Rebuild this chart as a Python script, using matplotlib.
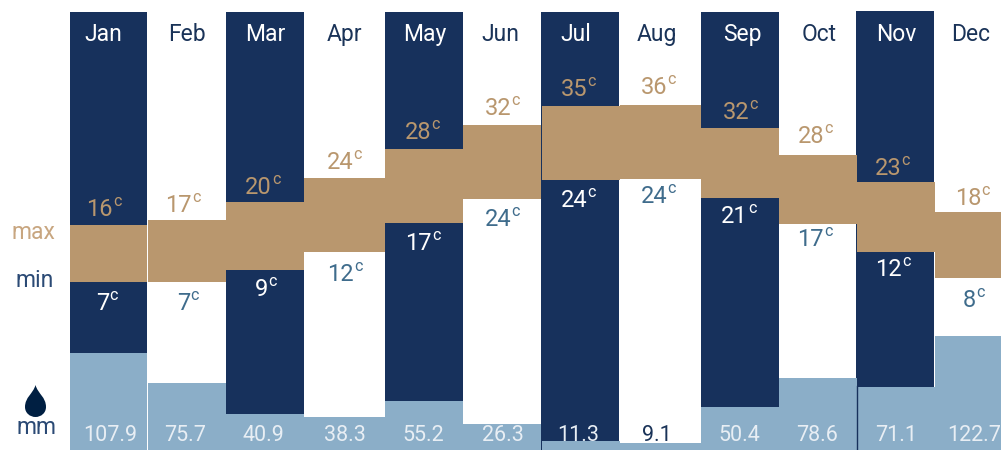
import matplotlib
matplotlib.use("Agg")
import matplotlib.pyplot as plt
from matplotlib.path import Path
from matplotlib.patches import PathPatch

months = ["Jan", "Feb", "Mar", "Apr", "May", "Jun", "Jul", "Aug", "Sep", "Oct", "Nov", "Dec"]
max_labels = [16, 17, 20, 24, 28, 32, 35, 36, 32, 28, 23, 18]
min_labels = [7, 7, 9, 12, 17, 24, 24, 24, 21, 17, 12, 8]
rain_labels = ["107.9", "75.7", "40.9", "38.3", "55.2", "26.3", "11.3", "9.1", "50.4", "78.6", "71.1", "122.7"]
# band and bar levels
max_level = [16.5, 17.33, 20.33, 24.33, 29.17, 33.17, 36.33, 36.5, 32.67, 28.17, 23.67, 18.67]
min_level = [7, 7, 9, 12, 16.83, 20.83, 24, 24.17, 21, 16.67, 12, 7.67]
rain_level = [107.9, 75.7, 40.9, 38.3, 55.2, 30.2, 11.3, 9.1, 48.9, 80.8, 71.1, 127]

# layout
left = [70, 148, 226, 304, 385, 463, 541.7, 619.5, 701, 779, 857, 935]
right = [147, 225.5, 304, 385, 463, 541, 619.5, 701, 779, 856.5, 934.5, 1001]
navy_left = [70, None, 226, None, 385, None, 541, None, 701, None, 856, None]
navy_right = [147, None, 304, None, 463, None, 619, None, 779, None, 934, None]
navy_top = [12, None, 12, None, 12, None, 12, None, 12, None, 11, None]
month_x = [103, 187, 265, 344.5, 425, 500, 575.5, 657, 742, 819, 896, 971]
rain_x = [110, 185, 263, 345, 423, 503, 578, 657, 739, 817, 896, 974]
max_right = [113, 192, 272, 353, 431, 511, 587, 667, 749, 824, 901, 981]
min_right = [109, 190, 268, 354, 432, 511, 587, 667, 748, 824, 902, 976]
max_base = [216, 212, 194, 169, 139, 115, 96, 94, 119, 143, 175, 205]
min_base = [310, 310, 296, 281, 250, 226, 207, 203, 223, 246, 276, 307]

NAVY = "#17315c"
TAN = "#b9976e"
SKY = "#8baec8"
STEEL = "#3f6c8c"
DARK = "#1a3358"
PALE = "#e8eef4"
FONT = "Roboto"
FS = 16.5

W, H = 1001, 450
fig = plt.figure(figsize=(W / 100, H / 100), dpi=100, facecolor="white")


def layer(z, ylim):
    a = fig.add_axes([0, 0, 1, 1], zorder=z)
    a.set_xlim(0, W)
    a.set_ylim(*ylim)
    a.axis("off")
    a.patch.set_alpha(0)
    return a


ax_navy = layer(1, (H, 0))
ax_rain = layer(2, (1.65, 496.2))
ax_temp = layer(3, (-21, 54))
ax_text = layer(4, (H, 0))

for i in range(12):
    if navy_left[i] is not None:
        ax_navy.bar(navy_left[i], H - navy_top[i], navy_right[i] - navy_left[i],
                    bottom=navy_top[i], align="edge", color=NAVY, linewidth=0)
    ax_rain.bar(left[i], rain_level[i], right[i] - left[i], align="edge", color=SKY, linewidth=0)
    ax_temp.bar(left[i], max_level[i] - min_level[i], right[i] - left[i], bottom=min_level[i],
                align="edge", color=TAN, linewidth=0)

# thin navy seam at the left of Nov over the rain block
ax_rain.axvline(856.5, ymin=0, ymax=64 / H, color=NAVY, linewidth=1)


def deg(x_right, baseline, value, color):
    ax_text.text(x_right, baseline, str(value), ha="right", va="baseline", color=color,
                 fontsize=17, family=FONT)
    ax_text.text(x_right, baseline - 10, "c", ha="left", va="baseline", color=color,
                 fontsize=11.5, family=FONT)


for i, m in enumerate(months):
    on_navy = navy_left[i] is not None
    ax_text.text(month_x[i], 41, m, ha="center", va="baseline", fontsize=FS, family=FONT,
                 color="white" if on_navy else DARK)
    deg(max_right[i], max_base[i], max_labels[i], TAN)
    deg(min_right[i], min_base[i], min_labels[i], "white" if on_navy else STEEL)
    rain_col = DARK if m == "Aug" else PALE
    ax_text.text(rain_x[i], 441, rain_labels[i], ha="center", va="baseline", fontsize=15.5,
                 family=FONT, color=rain_col)

ax_text.text(33, 239, "max", ha="center", va="baseline", fontsize=FS, family=FONT, color="#c8a680")
ax_text.text(35, 287, "min", ha="center", va="baseline", fontsize=FS, family=FONT, color="#2b4a75")
ax_text.text(37, 434, "mm", ha="center", va="baseline", fontsize=FS, family=FONT, color="#2b4a75")

drop = Path([(35.5, 385), (33, 394), (25, 397), (25, 407), (25, 413), (30, 417), (35.5, 417),
             (41, 417), (46, 413), (46, 407), (46, 397), (38, 394), (35.5, 385)],
            [Path.MOVETO] + [Path.CURVE4] * 12)
ax_text.add_patch(PathPatch(drop, facecolor="#001f42", edgecolor="none"))

fig.savefig("out.png", dpi=100, facecolor="white")
